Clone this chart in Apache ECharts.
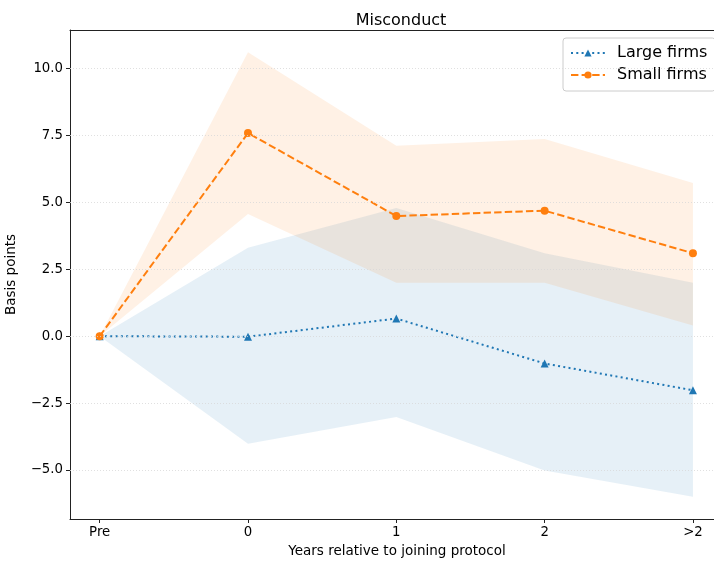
<!DOCTYPE html>
<html><head><meta charset="utf-8">
<script src="https://cdn.jsdelivr.net/npm/echarts@6/dist/echarts.min.js"></script>
<style>html,body{margin:0;padding:0;background:#fff}#c{width:714px;height:561px}</style>
</head><body><div id="c"></div>
<script>
var categories = ['Pre', '0', '1', '2', '>2'];
var largeVals = [0, -0.02, 0.66, -1.02, -2.02];
var largeLower = [0, -4.02, -3.02, -5.02, -6.0];
var largeUpper = [0, 3.3, 4.79, 3.1, 2.0];
var smallVals = [0, 7.59, 4.49, 4.69, 3.1];
var smallLower = [0, 4.57, 2.0, 2.0, 0.4];
var smallUpper = [0, 10.61, 7.12, 7.37, 5.72];
var yTicks = [-5, -2.5, 0, 2.5, 5, 7.5, 10];
var xTicks = [0, 1, 2, 3, 4];

var BLUE = '#1f77b4', ORANGE = '#ff7f0e';
var FONT = 'DejaVu Sans';
function pts(arr) { return arr.map(function (v, i) { return [i, v]; }); }

function bandSeries(name, lower, upper, color) {
  return {
    name: name, type: 'custom', silent: true, z: 1,
    data: lower.map(function (v, i) { return [i, v, upper[i]]; }),
    renderItem: function (params, api) {
      if (params.dataIndex !== 0) return null;
      var top = [], bot = [];
      for (var i = 0; i < lower.length; i++) {
        top.push(api.coord([i, upper[i]]));
        bot.unshift(api.coord([i, lower[i]]));
      }
      return {type: 'polygon', shape: {points: top.concat(bot)},
        style: {fill: color, opacity: 0.11}};
    }
  };
}

var chart = echarts.init(document.getElementById('c'), null, {renderer: 'canvas'});
chart.setOption({
  animation: false,
  backgroundColor: '#fff',
  title: {text: 'Misconduct', left: 396, top: 8, textAlign: 'center',
    textStyle: {fontFamily: FONT, fontSize: 16, fontWeight: 'normal', color: '#000'}},
  legend: {
    left: 563, top: 38, orient: 'vertical',
    data: ['Large firms', 'Small firms'],
    itemWidth: 34, itemHeight: 9, itemGap: 6,
    padding: [7, 8, 8, 7],
    borderColor: '#ccc', borderWidth: 1, borderRadius: 3, backgroundColor: '#fff',
    textStyle: {fontFamily: FONT, fontSize: 16, color: '#000', padding: [0, 0, 0, 7]}
  },
  grid: {left: 70, right: 0, top: 30, bottom: 42, containLabel: false, outerBoundsMode: 'none'},
  xAxis: [{
    type: 'value', min: -0.2, max: 4.142,
    name: 'Years relative to joining protocol', nameLocation: 'middle', nameGap: 25,
    nameTextStyle: {fontFamily: FONT, fontSize: 13.5, color: '#000', padding: [0, 0, 0, 10]},
    axisLine: {show: true, onZero: false, lineStyle: {color: '#222', width: 1}},
    axisTick: {show: true, length: 4, customValues: xTicks, lineStyle: {color: '#222'}},
    axisLabel: {customValues: xTicks, fontFamily: FONT, fontSize: 13.3, color: '#000', margin: 7,
      formatter: function (v) { return categories[Math.round(v)]; }},
    splitLine: {show: false}
  }, {
    type: 'value', min: -0.2, max: 4.142, position: 'top',
    axisLine: {show: true, onZero: false, lineStyle: {color: '#222', width: 1}},
    axisTick: {show: false}, axisLabel: {show: false}, splitLine: {show: false}
  }],
  yAxis: {
    type: 'value', min: -6.83, max: 11.44,
    name: 'Basis points', nameLocation: 'middle', nameGap: 52, nameRotate: 90,
    nameTextStyle: {fontFamily: FONT, fontSize: 13.5, color: '#000'},
    axisLine: {show: true, onZero: false, lineStyle: {color: '#222', width: 1}},
    axisTick: {show: true, length: 4, customValues: yTicks, lineStyle: {color: '#222'}},
    axisLabel: {customValues: yTicks, fontFamily: FONT, fontSize: 13.3, color: '#000', margin: 7,
      formatter: function (v) { return v.toFixed(1).replace('-', '\u2212'); }},
    splitLine: {show: false}
  },
  series: [
    {name: 'grid', type: 'line', data: [], silent: true, z: 0,
      markLine: {silent: true, symbol: 'none', label: {show: false},
        lineStyle: {color: '#d8d8d8', type: [1, 2], width: 0.8},
        data: yTicks.map(function (t) { return {yAxis: t}; })}},
    bandSeries('lband', largeLower, largeUpper, BLUE),
    bandSeries('sband', smallLower, smallUpper, ORANGE),
    {name: 'Large firms', type: 'line', data: pts(largeVals), symbol: 'triangle', symbolSize: 8,
      itemStyle: {color: BLUE}, lineStyle: {color: BLUE, width: 2, type: [2, 3.3]}, z: 3},
    {name: 'Small firms', type: 'line', data: pts(smallVals), symbol: 'circle', symbolSize: 8,
      itemStyle: {color: ORANGE}, lineStyle: {color: ORANGE, width: 2, type: [7.4, 3.2]}, z: 4}
  ]
});
</script></body></html>
